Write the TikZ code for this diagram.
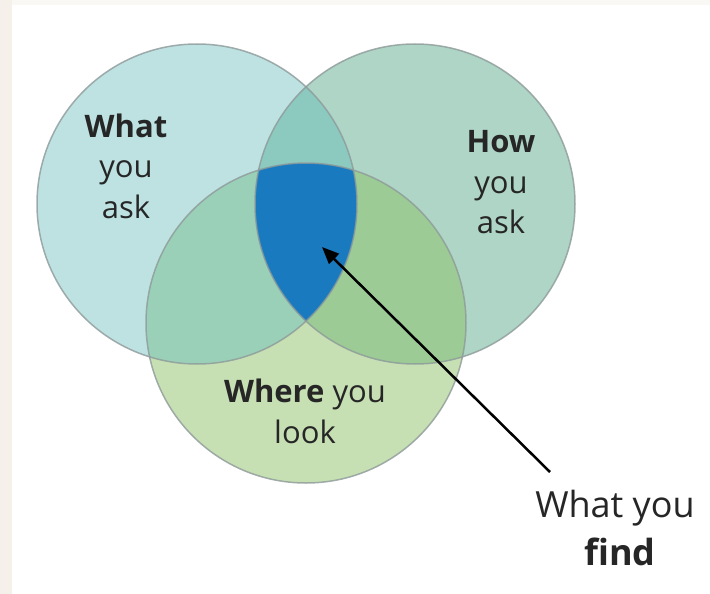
\documentclass[tikz,border=0pt]{standalone}
\usepackage{fontspec}
\setmainfont{Open Sans}
\usetikzlibrary{arrows.meta}
\definecolor{cL}{HTML}{BEE2E2}
\definecolor{cR}{HTML}{AED5C5}
\definecolor{cB}{HTML}{C6E0B4}
\definecolor{cLR}{HTML}{8CCAC0}
\definecolor{cLB}{HTML}{9BD0B8}
\definecolor{cRB}{HTML}{9CCB96}
\definecolor{cC}{HTML}{1A7ABF}
\definecolor{edge}{HTML}{8E9A9A}
\definecolor{beige}{HTML}{F5F1EA}
\tikzset{
  rim/.style={draw=edge, line width=1.5pt, opacity=0.8},
  lbl/.style={anchor=base, inner sep=0pt, font=\fontsize{31}{37}\selectfont, text=black!85},
  biglbl/.style={anchor=base, inner sep=0pt, font=\fontsize{36}{42}\selectfont, text=black!85},
  pointer/.style={line width=2.5pt, -{Triangle[length=17pt,width=14pt]}}
}
\begin{document}
\begin{tikzpicture}[x=1pt,y=-1pt]
\useasboundingbox (0,0) rectangle (710,594);
\fill[white] (0,0) rectangle (710,594);
\fill[beige] (0,0) rectangle (12,594);
\fill[beige!50] (12,0) rectangle (710,5);
\coordinate (cl) at (197,204);
\coordinate (cr) at (415,204);
\coordinate (cb) at (306,323);
\fill[cL] (cl) circle[radius=160pt];
\fill[cR] (cr) circle[radius=160pt];
\fill[cB] (cb) circle[radius=160pt];
\begin{scope}
  \clip (cl) circle[radius=160pt];
  \fill[cLR] (cr) circle[radius=160pt];
  \fill[cLB] (cb) circle[radius=160pt];
\end{scope}
\begin{scope}
  \clip (cr) circle[radius=160pt];
  \fill[cRB] (cb) circle[radius=160pt];
\end{scope}
\begin{scope}
  \clip (cl) circle[radius=160pt];
  \clip (cr) circle[radius=160pt];
  \fill[cC] (cb) circle[radius=160pt];
\end{scope}
\draw[rim] (cl) circle[radius=160pt];
\draw[rim] (cr) circle[radius=160pt];
\draw[rim] (cb) circle[radius=160pt];

\node[lbl] (wa1) at (126,137) {\textbf{What}};
\node[lbl] (wa2) at (126,177) {you};
\node[lbl] (wa3) at (126,218) {ask};
\node[lbl] (ha1) at (501,152) {\textbf{How}};
\node[lbl] (ha2) at (501,193) {you};
\node[lbl] (ha3) at (501,233) {ask};
\node[lbl] (wl1) at (305,402) {\textbf{Where} you};
\node[lbl] (wl2) at (305,443) {look};
\node[biglbl] (wf1) at (615,517) {What you};
\node[biglbl] (wf2) at (620,565) {\textbf{find}};

\coordinate (tail) at (550,472);
\coordinate (tip) at (322,247);
\draw[pointer] (tail) -- (tip);
\end{tikzpicture}
\end{document}
